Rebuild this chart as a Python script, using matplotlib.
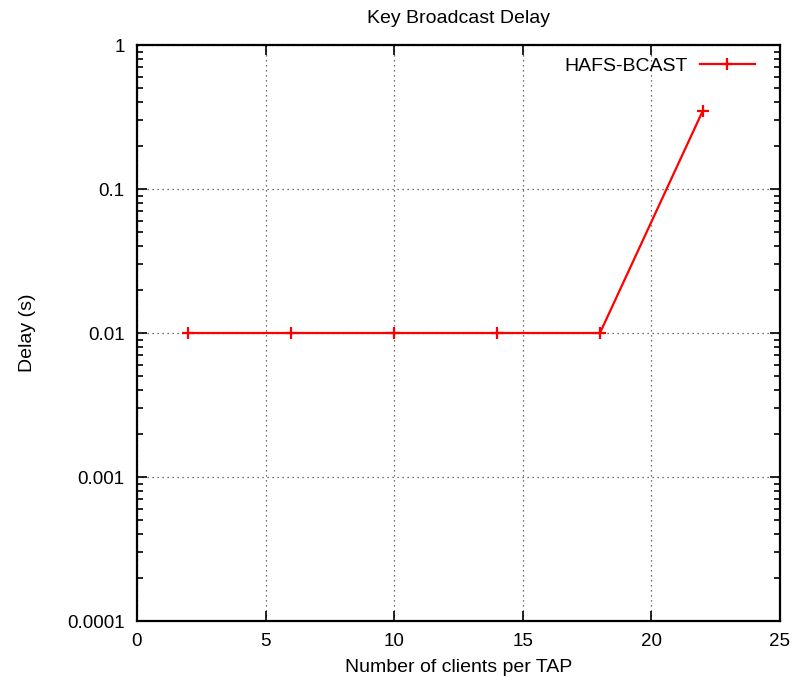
import numpy as np
import matplotlib
matplotlib.use('Agg')
import matplotlib.pyplot as plt
from matplotlib.ticker import LogLocator, FixedLocator, FuncFormatter

# clients per TAP vs. key broadcast delay
clients = [2, 6, 10, 14, 18, 22]
delay = [0.01, 0.01, 0.01, 0.01, 0.01, 0.35]
series_name = 'HAFS-BCAST'

x_ticks = [0, 5, 10, 15, 20, 25]
y_ticks = [0.0001, 0.001, 0.01, 0.1, 1]
y_labels = ['0.0001', '0.001', '0.01', '0.1', '1']

plt.rcParams['font.family'] = ['Liberation Sans', 'DejaVu Sans']
plt.rcParams['font.size'] = 14

fig = plt.figure(figsize=(7.97, 6.86), dpi=100)
ax = fig.add_axes([137 / 797, 1 - 621 / 686, 643 / 797, 576 / 686])

ax.plot(clients, delay, color='#ff0000', linewidth=1.6, marker='+',
        markersize=9, markeredgewidth=1.6, label=series_name)

ax.set_yscale('log')
ax.set_xlim(0, 25)
ax.set_ylim(0.0001, 1)
ax.xaxis.set_major_locator(FixedLocator(x_ticks))
ax.yaxis.set_major_locator(FixedLocator(y_ticks))
ax.yaxis.set_major_formatter(FuncFormatter(lambda v, p: y_labels[y_ticks.index(v)] if v in y_ticks else ''))
ax.yaxis.set_minor_locator(LogLocator(base=10, subs=np.arange(2, 10)))
ax.yaxis.set_minor_formatter(FuncFormatter(lambda v, p: ''))

ax.tick_params(which='both', direction='in', top=True, right=True, width=1.2,
               colors='black', labelsize=13.5)
ax.tick_params(which='major', length=7, pad=9)
ax.tick_params(which='minor', length=4)
for s in ax.spines.values():
    s.set_linewidth(1.6)

ax.grid(True, which='major', color='#444444', linestyle=(0, (1, 3)), linewidth=0.9)

ax.set_title('Key Broadcast Delay', fontsize=14, pad=16)
ax.set_xlabel('Number of clients per TAP', labelpad=6)
ax.set_ylabel('Delay (s)', labelpad=22)

ax.legend(loc='upper right', bbox_to_anchor=(0.961, 0.978), markerfirst=False,
          frameon=False, borderaxespad=0, borderpad=0, handlelength=2.85,
          handletextpad=0.6)

fig.savefig('out.png', dpi=100)
